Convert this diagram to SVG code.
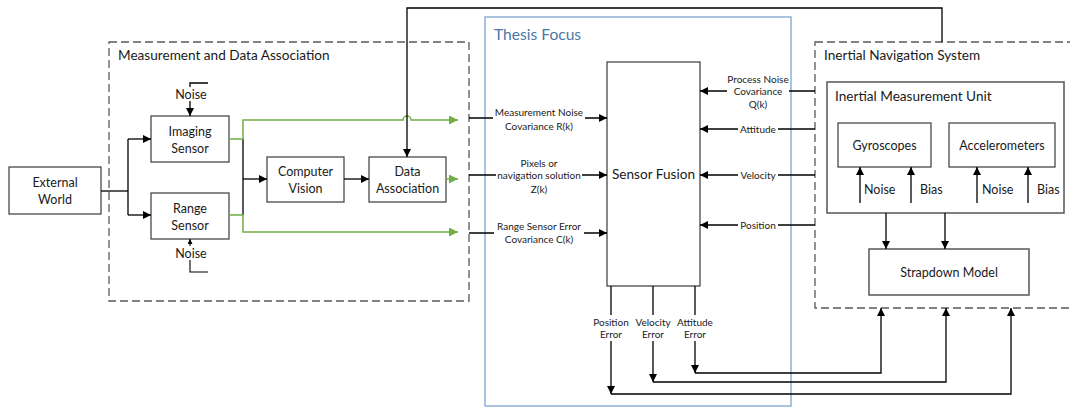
<svg xmlns="http://www.w3.org/2000/svg" width="1070" height="407" viewBox="0 0 1070 407">
  <style>
    text { font-family: Lato, "Liberation Sans", sans-serif; fill: #1a1a1a; }
    .t13 { font-size: 13.6px; }
    .t12 { font-size: 12.5px; }
    .lbl { font-size: 10px; text-anchor: middle; }
    .mid { text-anchor: middle; }
    .node { fill: #ffffff; stroke: #3a3a3a; stroke-width: 1.2; }
    .gnode { fill: #ffffff; stroke: #555555; stroke-width: 1.5; }
    .dash { fill: none; stroke: #5a5a5a; stroke-width: 1.3; stroke-dasharray: 8 4; }
    .focus { fill: none; stroke: #7ba3d0; stroke-width: 1.3; }
    .ln { fill: none; stroke: #000000; stroke-width: 1.3; }
    .arr { fill: none; stroke: #000000; stroke-width: 1.3; marker-end: url(#ah); }
    .arrs { fill: none; stroke: #000000; stroke-width: 1.1; marker-end: url(#ahs); }
    .garr { fill: none; stroke: #70ad47; stroke-width: 1.5; marker-end: url(#gah); }
    .bg { fill: #ffffff; stroke: none; }
  </style>
  <defs>
    <marker id="ah" viewBox="0 0 10 10" refX="10" refY="5" markerWidth="9" markerHeight="8" markerUnits="userSpaceOnUse" orient="auto">
      <path d="M0,0 L10,5 L0,10 Z" fill="#000000"/>
    </marker>
    <marker id="ahs" viewBox="0 0 10 10" refX="10" refY="5" markerWidth="6" markerHeight="5" markerUnits="userSpaceOnUse" orient="auto">
      <path d="M0,0 L10,5 L0,10 Z" fill="#000000"/>
    </marker>
    <marker id="gah" viewBox="0 0 10 10" refX="10" refY="5" markerWidth="11" markerHeight="9" markerUnits="userSpaceOnUse" orient="auto">
      <path d="M0,0 L10,5 L0,10 Z" fill="#70ad47"/>
    </marker>
  </defs>

  <rect width="1070" height="407" fill="#ffffff"/>

  <!-- grouping frames -->
  <g id="measurement-data-association">
    <rect class="dash" x="109" y="42" width="360" height="259"/>
    <text class="t13" x="118" y="60">Measurement and Data Association</text>
  </g>
  <g id="thesis-focus">
    <rect class="focus" x="485" y="17" width="306" height="389"/>
    <text x="494" y="40" style="font-size:15.6px; fill:#4a78aa;">Thesis Focus</text>
  </g>
  <g id="inertial-navigation-system">
    <rect class="dash" x="815" y="42" width="270" height="266"/>
    <text class="t13" x="824" y="60">Inertial Navigation System</text>
  </g>
  <g id="imu">
    <rect class="gnode" x="827" y="82" width="237" height="131"/>
    <text class="t13" x="835" y="101">Inertial Measurement Unit</text>
  </g>

  <!-- nodes -->
  <g id="external-world">
    <rect class="node" x="9" y="167" width="92" height="47"/>
    <text class="t12 mid" x="55" y="187">External</text>
    <text class="t12 mid" x="55" y="204">World</text>
  </g>
  <g id="imaging-sensor">
    <rect class="node" x="151" y="116" width="78" height="46"/>
    <text class="t12 mid" x="190" y="136">Imaging</text>
    <text class="t12 mid" x="190" y="153">Sensor</text>
  </g>
  <g id="range-sensor">
    <rect class="node" x="151" y="193" width="78" height="46"/>
    <text class="t12 mid" x="190" y="213">Range</text>
    <text class="t12 mid" x="190" y="230">Sensor</text>
  </g>
  <g id="computer-vision">
    <rect class="node" x="267" y="157" width="77" height="45"/>
    <text class="t12 mid" x="305.5" y="176">Computer</text>
    <text class="t12 mid" x="305.5" y="193">Vision</text>
  </g>
  <g id="data-association">
    <rect class="node" x="369" y="157" width="77" height="45"/>
    <text class="t12 mid" x="407.5" y="176">Data</text>
    <text class="t12 mid" x="407.5" y="193">Association</text>
  </g>
  <g id="sensor-fusion">
    <rect class="node" x="607" y="62" width="93" height="224"/>
    <text class="t13 mid" x="653.5" y="179">Sensor Fusion</text>
  </g>
  <g id="gyroscopes">
    <rect class="node" x="838" y="123" width="93" height="44"/>
    <text class="t12 mid" x="884.5" y="150">Gyroscopes</text>
  </g>
  <g id="accelerometers">
    <rect class="node" x="949" y="123" width="106" height="44"/>
    <text class="t12 mid" x="1002" y="150">Accelerometers</text>
  </g>
  <g id="strapdown-model">
    <rect class="gnode" x="869" y="249" width="160" height="46"/>
    <text class="t12 mid" x="949" y="277">Strapdown Model</text>
  </g>

  <!-- connectors -->
  <g id="connectors">
    <!-- external world to both sensors -->
    <path class="ln" d="M101,191 H128"/>
    <path class="ln" d="M128,139 V215"/>
    <path class="arr" d="M128,139 H151"/>
    <path class="arr" d="M128,215 H151"/>

    <!-- sensor noise inputs -->
    <path class="arr" d="M208,83 H190 V116"/>
    <path class="arrs" d="M208,272 H190 V239"/>
    <rect class="bg" x="174" y="87" width="33" height="14"/>
    <text class="t12 mid" x="191" y="99">Noise</text>
    <rect class="bg" x="174" y="246" width="33" height="14"/>
    <text class="t12 mid" x="191" y="258">Noise</text>

    <!-- sensors to computer vision -->
    <path class="ln" d="M243,139 V215"/>
    <path class="arr" d="M243,179 H267"/>
    <path class="arr" d="M344,179 H369"/>

    <!-- sensor outputs routed to sensor fusion inputs -->
    <path class="garr" d="M229,139 H243 V120 H403 a4,4 0 0 1 8,0 H458"/>
    <path class="garr" d="M229,215 H243 V232 H458"/>
    <path class="garr" d="M446,179 H458"/>

    <!-- feedback loop from the navigation system into data association -->
    <path class="arr" d="M942,42 V8 H407 V157"/>

    <!-- measurement inputs into sensor fusion -->
    <path class="arr" d="M469,118 H607"/>
    <path class="arr" d="M469,175 H607"/>
    <path class="arr" d="M469,233 H607"/>
    <rect class="bg" x="493" y="107" width="92" height="26"/>
    <text class="lbl" x="539" y="116">Measurement Noise</text>
    <text class="lbl" x="539" y="130">Covariance R(k)</text>
    <rect class="bg" x="496" y="157" width="86" height="40"/>
    <text class="lbl" x="539" y="167">Pixels or</text>
    <text class="lbl" x="539" y="179">navigation solution</text>
    <text class="lbl" x="539" y="193">Z(k)</text>
    <rect class="bg" x="494" y="221" width="90" height="26"/>
    <text class="lbl" x="539" y="230">Range Sensor Error</text>
    <text class="lbl" x="539" y="243">Covariance C(k)</text>

    <!-- navigation states into sensor fusion -->
    <path class="arr" d="M815,91 H700"/>
    <path class="arr" d="M815,129 H700"/>
    <path class="arr" d="M815,175 H700"/>
    <path class="arr" d="M815,225 H700"/>
    <rect class="bg" x="727" y="73" width="62" height="39"/>
    <text class="lbl" x="758" y="83">Process Noise</text>
    <text class="lbl" x="758" y="95">Covariance</text>
    <text class="lbl" x="758" y="108">Q(k)</text>
    <rect class="bg" x="738" y="123" width="40" height="12"/>
    <text class="lbl" x="758" y="133">Attitude</text>
    <rect class="bg" x="738" y="169" width="40" height="12"/>
    <text class="lbl" x="758" y="179">Velocity</text>
    <rect class="bg" x="738" y="219" width="40" height="12"/>
    <text class="lbl" x="758" y="229">Position</text>

    <!-- error corrections back to the strapdown model -->
    <path class="arr" d="M611,286 V394"/>
    <path class="arr" d="M653,286 V382"/>
    <path class="arr" d="M695,286 V373"/>
    <path class="arr" d="M695,373 H881 V308"/>
    <path class="arr" d="M653,382 H946 V308"/>
    <path class="arr" d="M611,394 H1011 V308"/>
    <rect class="bg" x="593" y="315" width="37" height="26"/>
    <text class="lbl" x="611" y="326">Position</text>
    <text class="lbl" x="611" y="338">Error</text>
    <rect class="bg" x="636" y="315" width="35" height="26"/>
    <text class="lbl" x="653" y="326">Velocity</text>
    <text class="lbl" x="653" y="338">Error</text>
    <rect class="bg" x="677" y="315" width="36" height="26"/>
    <text class="lbl" x="695" y="326">Attitude</text>
    <text class="lbl" x="695" y="338">Error</text>

    <!-- IMU sensor inputs -->
    <path class="arr" d="M860,203 V167"/>
    <path class="arr" d="M911,203 V167"/>
    <path class="arr" d="M977,203 V167"/>
    <path class="arr" d="M1028,203 V167"/>
    <text class="t12" x="864" y="194">Noise</text>
    <text class="t12" x="920" y="194">Bias</text>
    <text class="t12" x="982" y="194">Noise</text>
    <text class="t12" x="1037" y="194">Bias</text>

    <!-- IMU to strapdown model -->
    <path class="arr" d="M886,213 V249"/>
    <path class="arr" d="M945,213 V249"/>
  </g>
</svg>
